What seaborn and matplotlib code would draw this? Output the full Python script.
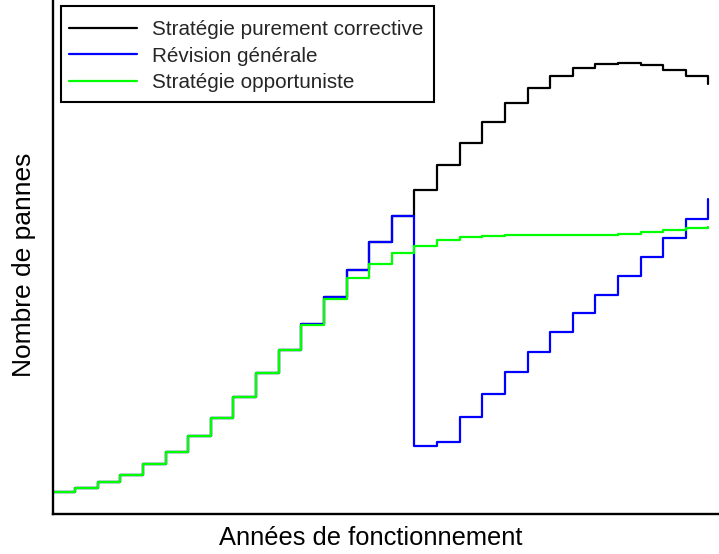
import matplotlib
matplotlib.use("Agg")
import matplotlib.pyplot as plt
from matplotlib.patches import Rectangle
import seaborn as sns
import pandas as pd

# Années de fonctionnement (1 à 30)
annees = list(range(1, 31))

# Nombre de pannes par année, pour chaque stratégie
corrective = [4.3, 5.2, 6.4, 7.8, 10.0, 12.4, 15.6, 19.2, 23.4, 28.2,
              32.8, 38.0, 43.3, 48.8, 54.3, 59.5, 64.7, 69.7, 74.2, 78.4,
              82.2, 85.1, 87.5, 89.1, 89.9, 90.1, 89.8, 88.7, 87.5, 85.9]
revision = [4.3, 5.2, 6.4, 7.8, 10.0, 12.4, 15.6, 19.2, 23.4, 28.2,
            32.8, 38.0, 43.3, 48.8, 54.3, 59.5, 13.6, 14.3, 19.4, 24.0,
            28.4, 32.4, 36.3, 40.1, 43.8, 47.5, 51.3, 55.1, 59.0, 62.9]
opportuniste = [4.3, 5.2, 6.4, 7.8, 10.0, 12.4, 15.6, 19.2, 23.4, 28.2,
                32.8, 37.8, 43.0, 47.2, 50.0, 52.2, 53.6, 54.7, 55.3, 55.6,
                55.8, 55.8, 55.7, 55.7, 55.7, 56.0, 56.3, 56.7, 57.1, 57.3]

strategies = ["Stratégie purement corrective", "Révision générale",
              "Stratégie opportuniste"]
couleurs = ["#000000", "#0000ff", "#00ff00"]

df = pd.concat([
    pd.DataFrame({"annee": annees, "pannes": vals, "strategie": nom})
    for nom, vals in zip(strategies, [corrective, revision, opportuniste])
], ignore_index=True)

sns.set_style("white")
plt.rcParams["font.family"] = ["Liberation Sans", "DejaVu Sans"]

W, H = 719, 554
fig = plt.figure(figsize=(W / 100, H / 100), dpi=100)

# Axes extending past the right and top edges of the figure
px_x0, px_y0 = 52.5, 40.5
step_px = 22.62
ymax = 110
ax = fig.add_axes([px_x0 / W, px_y0 / H,
                   (30 * step_px) / W, (ymax * 5) / H])

sns.lineplot(data=df, x="annee", y="pannes", hue="strategie",
             hue_order=strategies, palette=dict(zip(strategies, couleurs)),
             drawstyle="steps-post", linewidth=1.6, ax=ax, legend=False,
             sort=False)

ax.set_xlim(1, 31)
ax.set_ylim(0, ymax)
ax.set_xticks([])
ax.set_yticks([])
for side in ["top", "right"]:
    ax.spines[side].set_visible(False)
for side in ["left", "bottom"]:
    ax.spines[side].set_color("black")
    ax.spines[side].set_linewidth(1.7)

ax.set_xlabel("Années de fonctionnement", fontsize=18.4, color="black")
ax.xaxis.set_label_coords(371 / W, 1 - 526 / H, transform=fig.transFigure)
ax.set_ylabel("Nombre de pannes", fontsize=19, color="black")
ax.yaxis.set_label_coords(36 / W, 1 - 265 / H, transform=fig.transFigure)

# Legend entries, with a plain rectangular frame drawn around them
handles = [plt.Line2D([], [], color=c, linewidth=1.6) for c in couleurs]
leg = fig.legend(handles, strategies, loc="upper left",
                 bbox_to_anchor=(69 / W, 1 - 20 / H),
                 bbox_transform=fig.transFigure, borderaxespad=0,
                 fontsize=14.9, frameon=False,
                 handlelength=3.29, handletextpad=0.72, labelspacing=0.37,
                 borderpad=0)
box = Rectangle((61 / W, 1 - 102 / H), (434 - 61) / W, (102 - 6) / H,
                transform=fig.transFigure, facecolor="white",
                edgecolor="black", linewidth=1.5, zorder=2)
fig.patches.append(box)
leg.set_zorder(3)

fig.savefig("out.png", dpi=100)
